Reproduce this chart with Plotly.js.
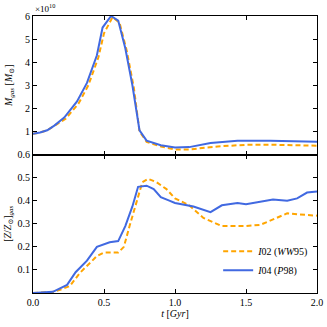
<!DOCTYPE html>
<html>
<head>
<meta charset="utf-8">
<script src="https://cdn.plot.ly/plotly-3.0.1.min.js"></script>
<style>
  html, body { margin: 0; padding: 0; background: #fff; }
  #plot { width: 327px; height: 327px; }
</style>
</head>
<body>
<div id="plot"></div>
<script>
// gas mass, in units of 1e10 Msun
const tMassI04 = [0, 0.05, 0.1, 0.15, 0.22, 0.31, 0.38, 0.45, 0.49, 0.55, 0.6, 0.65, 0.7, 0.75, 0.8, 0.9, 1.0, 1.1, 1.25, 1.44, 1.67, 2.0];
const massI04 = [0.9, 0.95, 1.05, 1.25, 1.6, 2.3, 3.1, 4.3, 5.5, 6.0, 5.8, 4.6, 3.0, 1.05, 0.6, 0.4, 0.3, 0.32, 0.5, 0.6, 0.6, 0.55];
const tMassI02 = [0, 0.05, 0.1, 0.15, 0.23, 0.32, 0.39, 0.46, 0.5, 0.56, 0.61, 0.66, 0.71, 0.75, 0.8, 0.9, 1.0, 1.1, 1.3, 1.5, 1.7, 2.0];
const massI02 = [0.9, 0.95, 1.05, 1.25, 1.55, 2.2, 3.0, 4.2, 5.25, 5.95, 5.7, 4.5, 2.9, 1.0, 0.55, 0.35, 0.22, 0.22, 0.35, 0.42, 0.42, 0.38];

// gas metallicity
const tZI04 = [0, 0.14, 0.24, 0.3, 0.38, 0.45, 0.54, 0.6, 0.65, 0.7, 0.74, 0.8, 0.85, 0.9, 0.96, 1.0, 1.13, 1.25, 1.33, 1.44, 1.5, 1.6, 1.69, 1.79, 1.86, 1.93, 2.0];
const zI04 = [0, 0.005, 0.035, 0.09, 0.14, 0.2, 0.22, 0.225, 0.29, 0.375, 0.46, 0.465, 0.45, 0.415, 0.4, 0.39, 0.375, 0.35, 0.38, 0.39, 0.385, 0.395, 0.405, 0.4, 0.41, 0.435, 0.44];
const tZI02 = [0, 0.15, 0.26, 0.33, 0.45, 0.5, 0.6, 0.64, 0.68, 0.73, 0.77, 0.81, 0.87, 0.94, 1.0, 1.1, 1.2, 1.33, 1.5, 1.6, 1.69, 1.79, 1.88, 2.0];
const zI02 = [0, 0.005, 0.03, 0.087, 0.16, 0.175, 0.175, 0.2, 0.29, 0.39, 0.48, 0.495, 0.48, 0.45, 0.41, 0.38, 0.325, 0.29, 0.29, 0.295, 0.32, 0.345, 0.34, 0.335];

const nameI02 = "<i>I</i>02 (<i>WW</i>95)";
const nameI04 = "<i>I</i>04 (<i>P</i>98)";

const orange = "#ffa500";
const blue = "#4169e1";
const font = { family: "Liberation Serif, DejaVu Serif, serif", size: 10, color: "#000" };

const traces = [
  { x: tMassI02, y: massI02, xaxis: "x2", yaxis: "y2", mode: "lines", showlegend: false,
    line: { color: orange, width: 2, dash: "5px,3px" } },
  { x: tMassI04, y: massI04, xaxis: "x2", yaxis: "y2", mode: "lines", showlegend: false,
    line: { color: blue, width: 2 } },
  { x: tZI02, y: zI02, mode: "lines", name: nameI02,
    line: { color: orange, width: 2, dash: "5px,3px" } },
  { x: tZI04, y: zI04, mode: "lines", name: nameI04,
    line: { color: blue, width: 2 } },
];

const axisBase = {
  showline: true, linecolor: "#000", linewidth: 1, mirror: "ticks",
  ticks: "inside", ticklen: 4, tickcolor: "#000", tickwidth: 1,
  showgrid: false, zeroline: false, tickfont: font,
};

Plotly.newPlot("plot", traces, {
  width: 327, height: 327,
  margin: { l: 33, r: 10, t: 16, b: 34 },
  paper_bgcolor: "#fff", plot_bgcolor: "#fff",
  font: font,
  xaxis: Object.assign({}, axisBase, {
    range: [0, 2], tickvals: [0, 0.5, 1, 1.5, 2], ticktext: ["0.0", "0.5", "1.0", "1.5", "2.0"],
    anchor: "y", title: { text: "<i>t</i> [<i>Gyr</i>]", font: font, standoff: 2 },
  }),
  xaxis2: Object.assign({}, axisBase, {
    range: [0, 2], tickvals: [0.5, 1, 1.5], showticklabels: false, anchor: "y2", matches: "x",
  }),
  yaxis: Object.assign({}, axisBase, {
    domain: [0, 0.5], range: [0, 0.6], tickvals: [0.1, 0.2, 0.3, 0.4, 0.5, 0.6],
    ticktext: ["0.1", "0.2", "0.3", "0.4", "0.5", "0.6"], anchor: "x",
    title: { text: "[<i>Z</i>/<i>Z</i><sub>⊙</sub>]<sub><i>gas</i></sub>", font: font, standoff: 4 },
  }),
  yaxis2: Object.assign({}, axisBase, {
    domain: [0.5, 1], range: [0, 6], tickvals: [1, 2, 3, 4, 5, 6], anchor: "x2",
    title: { text: "<i>M<sub>gas</sub></i> [<i>M</i><sub>⊙</sub>]", font: font, standoff: 10 },
  }),
  legend: {
    x: 0.99, y: 0.03, xanchor: "right", yanchor: "bottom", itemwidth: 30,
    bgcolor: "rgba(0,0,0,0)", font: font, tracegroupgap: 0,
  },
  annotations: [
    { text: "×10<sup>10</sup>", xref: "paper", yref: "paper", x: 0, y: 1, xanchor: "left", yanchor: "bottom",
      showarrow: false, font: { family: font.family, size: 9, color: "#000" } },
  ],
}, { displayModeBar: false, staticPlot: true });
</script>
</body>
</html>
